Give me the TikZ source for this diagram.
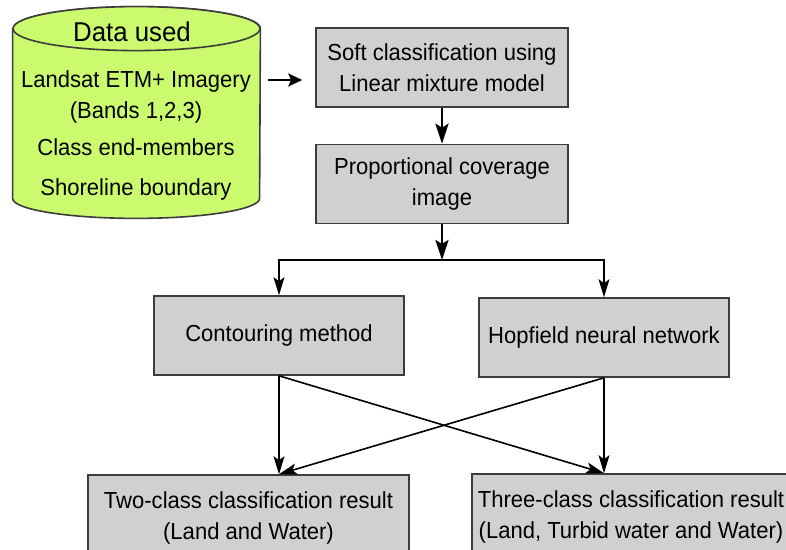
\documentclass[tikz,border=0pt]{standalone}
\usepackage{fontspec}
\setmainfont{Liberation Sans}[FakeStretch=0.95]
\usetikzlibrary{arrows.meta,positioning,calc,shapes.geometric}
\definecolor{ink}{RGB}{60,60,60}
\definecolor{boxfill}{RGB}{208,208,208}
\definecolor{lime}{RGB}{204,250,110}
\tikzset{
  box/.style={draw=ink,fill=boxfill,line width=0.8pt,minimum width=126pt,
    minimum height=39.5pt,inner sep=2pt,align=center,
    font=\fontsize{11.6}{15.5}\selectfont},
  can/.style={draw=ink,fill=lime,line width=0.8pt},
  txt/.style={inner sep=0pt,align=center,font=\fontsize{11.6}{15.5}\selectfont},
  ar/.style={-{Stealth[length=10pt,width=6.5pt,inset=2pt]},line width=1.4pt},
  arthin/.style={-{Stealth[length=9pt,width=5.5pt,inset=2pt]},line width=0.8pt},
}

\begin{document}
\begin{tikzpicture}[x=0.5pt,y=-0.5pt]
  \useasboundingbox (0,0) rectangle (786,550);
  \clip (0,0) rectangle (786,550);
  % input data (drum drawn round the node)
  \node[minimum width=123.5pt,minimum height=105.5pt,inner sep=0pt] (data) at (136.5,112.5) {};
  \path[can] ([yshift=-11pt]data.north west) -- ([yshift=10pt]data.south west)
     arc[start angle=180,end angle=360,x radius=61.75pt,y radius=10pt]
     -- ([yshift=-11pt]data.north east)
     arc[start angle=0,end angle=180,x radius=61.75pt,y radius=11pt] -- cycle;
  \draw[can] ([yshift=-11pt]data.north) ellipse[x radius=61.75pt,y radius=11pt];
  \node[txt,font=\fontsize{13.6}{16}\selectfont] (title) at (132,32) {Data used};
  \node[txt] (items) at (136,136)
     {Landsat ETM+ Imagery\\(Bands 1,2,3)\\[3pt]Class end-members\\[4.5pt]Shoreline boundary};
  % processing chain
  \node[box] (soft) at (442,67.5) {Soft classification using\\Linear mixture model};
  \node[box] (prop) at (442,184) {Proportional coverage\\image};
  \node[box,minimum width=125pt] (cont) at (279,335.5) {Contouring method};
  \node[box,minimum width=125pt] (hopf) at (604,337.5) {Hopfield neural network};
  \node[box,minimum width=160.5pt,minimum height=42.5pt] (two) at (248.5,517.5)
     {Two-class classification result\\(Land and Water)};
  \node[box,minimum width=159pt,minimum height=43pt] (three) at (631,517)
     {Three-class classification result\\(Land, Turbid water and Water)};
  \coordinate (split) at (442,260);
  \draw[ar,-{Stealth[length=7pt,width=6.5pt,inset=1.5pt]},shorten <=4pt,shorten >=6.5pt]
     ([yshift=-6.25pt]soft.west -| data.east) -- ([yshift=-6.25pt]soft.west);
  \draw[ar] (soft) -- (prop);
  \draw[ar] (prop) -- (split);
  \draw[arthin] (split) -| (cont);
  \draw[arthin] (split) -| (hopf);
  % both methods feed both results
  \draw[arthin] (cont.south) -- (cont.south |- two.north);
  \draw[arthin] (cont.south) -- (hopf.south |- three.north);
  \draw[arthin] (hopf.south) -- (hopf.south |- three.north);
  \draw[arthin] (hopf.south) -- (cont.south |- two.north);
\end{tikzpicture}
\end{document}
